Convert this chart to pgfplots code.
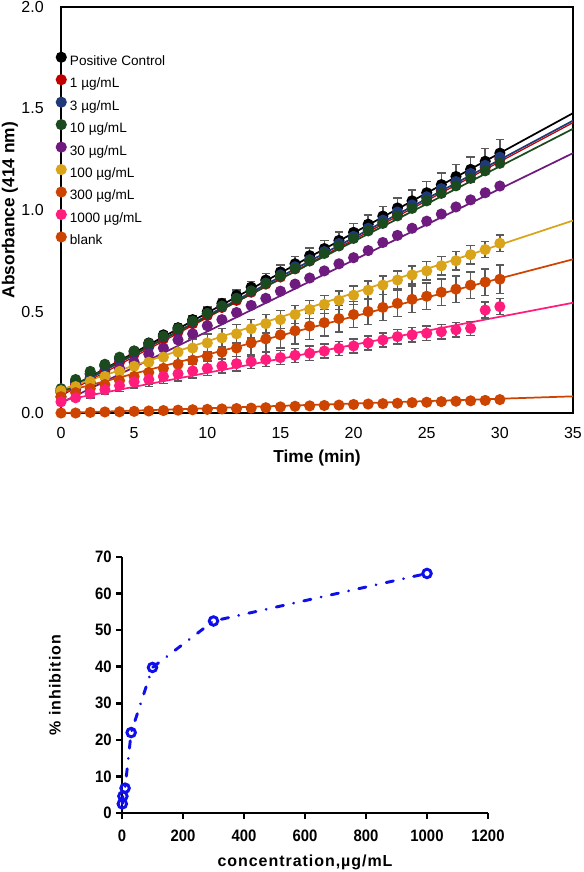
\documentclass[border=0pt]{standalone}
\usepackage{pgfplots}
\pgfplotsset{compat=1.18}
\usepackage{pgfplotstable}
\usepackage{fontspec}
\setmainfont{Liberation Sans}
\newfontfamily\condfont[FakeStretch=0.9]{Liberation Sans}
\newfontfamily\spacedfont[LetterSpace=6]{Liberation Sans}

\definecolor{cpc}{HTML}{000000}
\definecolor{cone}{HTML}{C00000}
\definecolor{cthree}{HTML}{1F3A78}
\definecolor{cten}{HTML}{1B4A1E}
\definecolor{cthirty}{HTML}{6E1A7E}
\definecolor{chund}{HTML}{D9A31A}
\definecolor{cthree100}{HTML}{CC4400}
\definecolor{cthou}{HTML}{FF1C7C}
\definecolor{cblank}{HTML}{CC4400}
\definecolor{errgray}{HTML}{5A5A5A}
\definecolor{inhblue}{RGB}{15,15,235}

% time, positive control (+err), 1, 3, 10, 30 ug/mL
\pgfplotstableread{
t   pc     pce    r1     n3     g10    p30
0   0.110  0.000  0.100  0.110  0.120  0.080
1   0.155  0.000  0.140  0.150  0.165  0.115
2   0.195  0.005  0.175  0.190  0.205  0.150
3   0.235  0.007  0.210  0.230  0.240  0.180
4   0.270  0.009  0.250  0.265  0.275  0.220
5   0.305  0.011  0.290  0.300  0.305  0.250
6   0.345  0.013  0.325  0.335  0.342  0.290
7   0.385  0.015  0.365  0.375  0.379  0.320
8   0.420  0.018  0.400  0.410  0.416  0.360
9   0.460  0.020  0.440  0.450  0.453  0.390
10  0.500  0.022  0.480  0.490  0.490  0.430
11  0.540  0.024  0.520  0.525  0.527  0.460
12  0.580  0.026  0.555  0.565  0.564  0.495
13  0.620  0.029  0.595  0.600  0.601  0.530
14  0.655  0.031  0.635  0.640  0.638  0.565
15  0.695  0.033  0.670  0.680  0.675  0.600
16  0.735  0.035  0.710  0.720  0.712  0.635
17  0.775  0.037  0.750  0.755  0.749  0.665
18  0.810  0.040  0.790  0.795  0.786  0.700
19  0.850  0.042  0.825  0.835  0.823  0.735
20  0.890  0.044  0.865  0.870  0.860  0.765
21  0.930  0.046  0.905  0.910  0.897  0.800
22  0.970  0.048  0.940  0.950  0.934  0.840
23  1.010  0.050  0.980  0.990  0.971  0.875
24  1.045  0.053  1.020  1.025  1.008  0.910
25  1.085  0.055  1.060  1.065  1.045  0.945
26  1.125  0.057  1.095  1.105  1.082  0.980
27  1.165  0.059  1.135  1.140  1.119  1.015
28  1.200  0.062  1.175  1.180  1.156  1.050
29  1.240  0.064  1.210  1.220  1.193  1.085
30  1.280  0.066  1.250  1.260  1.230  1.118
}\tabA

% time, 100 (+err), 300 (+err), 1000 (+err), blank
\pgfplotstableread{
t   y100   y100e  o300   o300e  k1000  k1000e bl
0   0.110  0.000  0.080  0.000  0.055  0.000  0.000
1   0.130  0.010  0.100  0.015  0.075  0.010  0.000
2   0.155  0.020  0.120  0.025  0.095  0.020  0.003
3   0.180  0.030  0.140  0.035  0.115  0.025  0.005
4   0.205  0.035  0.160  0.045  0.135  0.030  0.006
5   0.230  0.040  0.180  0.055  0.154  0.030  0.008
6   0.250  0.040  0.200  0.060  0.165  0.035  0.010
7   0.275  0.045  0.220  0.060  0.180  0.035  0.012
8   0.300  0.045  0.240  0.065  0.193  0.035  0.014
9   0.320  0.045  0.260  0.065  0.207  0.035  0.016
10  0.345  0.045  0.280  0.065  0.220  0.035  0.018
11  0.370  0.045  0.300  0.065  0.232  0.035  0.020
12  0.390  0.045  0.320  0.065  0.243  0.035  0.022
13  0.415  0.045  0.345  0.065  0.253  0.035  0.024
14  0.440  0.045  0.365  0.065  0.263  0.035  0.026
15  0.460  0.045  0.385  0.065  0.273  0.035  0.030
16  0.485  0.045  0.405  0.065  0.284  0.035  0.033
17  0.510  0.045  0.428  0.065  0.294  0.035  0.035
18  0.535  0.045  0.445  0.065  0.305  0.035  0.037
19  0.555  0.045  0.465  0.065  0.318  0.035  0.039
20  0.580  0.045  0.485  0.065  0.330  0.035  0.042
21  0.605  0.045  0.500  0.065  0.345  0.035  0.044
22  0.630  0.045  0.520  0.065  0.360  0.035  0.046
23  0.655  0.045  0.540  0.065  0.376  0.035  0.048
24  0.680  0.045  0.560  0.065  0.385  0.035  0.051
25  0.700  0.045  0.575  0.065  0.393  0.035  0.053
26  0.725  0.045  0.595  0.065  0.400  0.035  0.056
27  0.750  0.045  0.610  0.065  0.410  0.035  0.058
28  0.780  0.045  0.630  0.065  0.417  0.035  0.060
29  0.805  0.040  0.645  0.065  0.507  0.040  0.062
30  0.836  0.040  0.659  0.070  0.524  0.040  0.066
}\tabB

% concentration (ug/mL), % inhibition
\pgfplotstableread{
c     inh
1     2.5
3     4.6
10    6.8
30    22.0
100   39.8
300   52.5
1000  65.5
}\tabC

\begin{document}
\begin{tikzpicture}
\useasboundingbox (0,0) rectangle (437.25pt,654pt);
\begin{axis}[
  at={(45.75pt,344.25pt)}, anchor=south west,
  scale only axis, width=384pt, height=304.5pt,
  xmin=0, xmax=35, ymin=0, ymax=2,
  xtick={0,5,...,35}, ytick={0,0.5,1,1.5,2},
  axis line style={line width=1.2pt},
  major tick length=0pt,
  clip=false,
  /pgf/number format/assume math mode=true,
  tick label style={font=\fontsize{12}{14}\selectfont},
  yticklabel style={/pgf/number format/fixed, /pgf/number format/fixed zerofill,
    /pgf/number format/precision=1, anchor=east, inner sep=0pt, xshift=-12.75pt},
  xticklabel style={anchor=center, inner sep=0pt, yshift=-15pt},
  xlabel={Time (min)}, ylabel={Absorbance (414 nm)},
  xlabel style={at={(axis description cs:0.5,-0.1108)}, anchor=center,
    font=\bfseries\fontsize{13}{15}\selectfont},
  ylabel style={at={(axis description cs:-0.0996,0.5)}, anchor=center,
    font=\bfseries\fontsize{13}{15}\selectfont},
  legend cell align=left,
  legend image code/.code={\draw[#1] plot coordinates {(0pt,0.33em)};},
  legend style={at={(axis description cs:0,0.871)}, anchor=north west,
    draw=none, fill=none, inner sep=0pt, xshift=-3.5pt, yshift=5.3pt,
    font=\fontsize{10.2}{12}\selectfont, row sep=5.2pt,
    nodes={inner sep=0pt, text height=7.5pt, text depth=2.2pt},
    /tikz/every odd column/.style={column sep=3pt}},
  every axis plot/.append style={line width=1.3pt},
  dots/.style={only marks, mark=*, mark size=3.5pt, color=#1},
  errs/.style={error bars/.cd, y dir=both, y explicit,
    error bar style={errgray, line width=1.1pt},
    error mark options={rotate=90, mark size=3.2pt, line width=1.1pt, errgray}},
]
% fitted lines
\addplot[cpc, forget plot] coordinates {(0,0.100) (35,1.477)};
\addplot[cthree, forget plot] coordinates {(0,0.095) (35,1.440)};
\addplot[cone, forget plot, line width=0.9pt] coordinates {(0,0.085) (35,1.430)};
\addplot[cten, forget plot] coordinates {(0,0.105) (35,1.400)};
\addplot[cthirty, forget plot] coordinates {(0,0.050) (35,1.280)};
\addplot[chund, forget plot] coordinates {(0,0.115) (35,0.948)};
\addplot[cthree100, forget plot] coordinates {(0,0.100) (35,0.757)};
\addplot[cthou, forget plot] coordinates {(0,0.060) (35,0.543)};
\addplot[cblank, forget plot] coordinates {(0,0.000) (35,0.082)};
% data
\addplot[dots=cpc, errs] table[x=t, y=pc, y error=pce] {\tabA};
\addlegendentry{Positive Control}
\addplot[dots=cone] table[x=t, y=r1] {\tabA};
\addlegendentry{1 µg/mL}
\addplot[dots=cthree] table[x=t, y=n3] {\tabA};
\addlegendentry{3 µg/mL}
\addplot[dots=cten] table[x=t, y=g10] {\tabA};
\addlegendentry{10 µg/mL}
\addplot[dots=cthirty] table[x=t, y=p30] {\tabA};
\addlegendentry{30 µg/mL}
\addplot[dots=chund, errs] table[x=t, y=y100, y error=y100e] {\tabB};
\addlegendentry{100 µg/mL}
\addplot[dots=cthree100, errs] table[x=t, y=o300, y error=o300e] {\tabB};
\addlegendentry{300 µg/mL}
\addplot[dots=cthou, errs] table[x=t, y=k1000, y error=k1000e] {\tabB};
\addlegendentry{1000 µg/mL}
\addplot[dots=cblank] table[x=t, y=bl] {\tabB};
\addlegendentry{blank}
\end{axis}

\begin{axis}[
  at={(91.5pt,44.25pt)}, anchor=south west,
  scale only axis, width=274.5pt, height=192pt,
  xmin=0, xmax=1200, ymin=0, ymax=70,
  axis x line=bottom, axis y line=left,
  axis line style={-, line width=2pt},
  xtick={0,200,...,1200}, ytick={0,10,...,70},
  tick align=outside, major tick length=4.5pt,
  every tick/.style={black, line width=2pt},
  clip=false,
  /pgf/number format/assume math mode=true,
  /pgf/number format/1000 sep={},
  tick label style={font=\condfont\bfseries\fontsize{12.4}{14}\selectfont},
  yticklabel style={anchor=east, inner sep=0pt, xshift=-3pt},
  xticklabel style={anchor=center, inner sep=0pt, yshift=-12.5pt},
  xlabel={concentration,µg/mL}, ylabel={\% inhibition},
  xlabel style={at={(axis description cs:0.5,-0.1914)}, anchor=center,
    font=\spacedfont\bfseries\fontsize{12}{14}\selectfont},
  ylabel style={at={(axis description cs:-0.183,0.5)}, anchor=center,
    font=\spacedfont\bfseries\fontsize{12}{14}\selectfont},
]
\addplot[inhblue, line width=2.2pt, line cap=round,
  dash pattern=on 5.5pt off 7.8pt on 0.01pt off 7.8pt,
  mark=o, mark size=3.2pt, mark options={solid, line width=2.2pt}]
  table[x=c, y=inh] {\tabC};
\end{axis}
\end{tikzpicture}
\end{document}
